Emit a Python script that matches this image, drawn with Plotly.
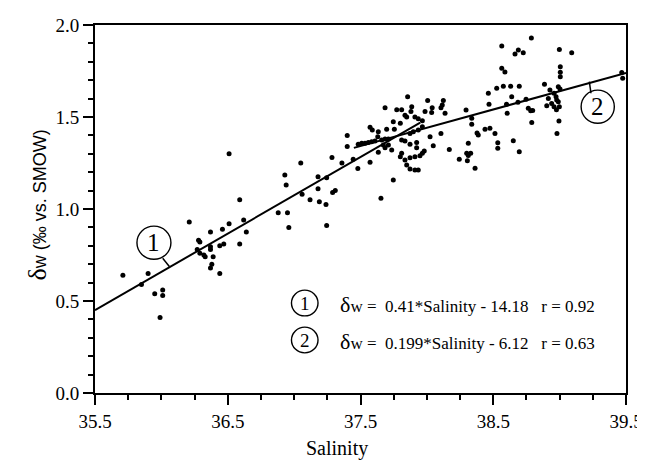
import plotly.graph_objects as go

# Scatter data (salinity, delta_w)
salinity = [
    35.71, 35.90, 35.85, 35.95, 36.01, 36.01, 35.99, 36.21, 36.28, 36.29,
    36.27, 36.29, 36.32, 36.37, 36.37, 36.37, 36.33, 36.39, 36.38, 36.37,
    36.44, 36.44, 36.47, 36.46, 36.51, 36.59, 36.62, 36.64, 36.51, 36.59,
    36.88, 36.95, 36.96, 36.93, 36.94, 37.05, 37.06, 37.12, 37.18, 37.18,
    37.19, 37.245, 37.24, 37.245, 37.29, 37.31, 37.285, 37.36, 37.40, 37.40,
    37.445, 37.48,
    37.855, 37.685, 38.006, 38.124, 38.116, 38.106, 38.04, 38.036, 37.986, 37.773,
    37.81, 37.886, 37.88, 37.835, 37.848, 37.91, 37.935, 37.966, 37.80, 37.747,
    37.755, 37.697, 37.572, 37.589, 37.634, 37.63, 37.483, 37.509, 37.534, 37.559,
    37.584, 37.609, 37.66, 37.685, 37.71, 37.672, 37.685, 37.71, 37.81, 37.835,
    37.873, 37.898, 37.935, 37.966, 38.024, 38.106, 37.873, 37.923, 37.923, 38.048,
    37.98, 37.966, 37.948, 37.91, 37.873, 37.81, 37.80, 37.735, 37.634, 37.572,
    37.835, 37.848, 37.873, 37.91, 37.935, 37.747, 37.654, 38.137,
    38.564, 38.588, 38.463, 38.526, 38.576, 38.631, 38.696, 38.639, 38.747, 38.468,
    38.60, 38.686, 38.764, 38.782, 38.797, 38.295, 38.338, 38.338, 38.605, 38.79,
    38.438, 38.475, 38.378, 38.387, 38.513, 38.312, 38.534, 38.534, 38.651, 38.696,
    38.169, 38.30, 38.33, 38.312, 38.244, 38.305, 38.363, 38.664, 38.689, 38.726,
    38.564, 38.787,
    38.998, 39.091, 39.005, 39.005, 39.005, 39.468, 39.475, 38.886, 38.99, 39.003,
    38.958, 38.973, 38.978, 38.94, 38.903, 38.958, 38.99, 38.998, 38.915, 38.995,
    38.98, 38.976, 38.927,
]
delta_w = [
    0.64, 0.65, 0.59, 0.54, 0.56, 0.53, 0.41, 0.93, 0.83, 0.82,
    0.78, 0.76, 0.75, 0.875, 0.795, 0.78, 0.74, 0.74, 0.70, 0.68,
    0.65, 0.80, 0.81, 0.89, 0.92, 0.81, 0.94, 0.875, 1.30, 1.05,
    0.98, 0.98, 0.90, 1.185, 1.13, 1.25, 1.08, 1.05, 1.175, 1.11,
    1.04, 1.17, 1.025, 0.91, 1.09, 1.10, 1.28, 1.25, 1.40, 1.34,
    1.27, 1.22,
    1.61, 1.55, 1.59, 1.59, 1.565, 1.55, 1.55, 1.525, 1.53, 1.54,
    1.54, 1.556, 1.53, 1.51, 1.50, 1.50, 1.49, 1.48, 1.466, 1.474,
    1.433, 1.433, 1.444, 1.43, 1.42, 1.393, 1.352, 1.357, 1.357, 1.362,
    1.366, 1.37, 1.375, 1.38, 1.38, 1.348, 1.333, 1.348, 1.375, 1.37,
    1.411, 1.42, 1.43, 1.447, 1.393, 1.411, 1.352, 1.362, 1.333, 1.344,
    1.315, 1.303, 1.29, 1.284, 1.279, 1.303, 1.284, 1.32, 1.308, 1.254,
    1.266, 1.239, 1.217, 1.212, 1.212, 1.158, 1.058, 1.52,
    1.765, 1.745, 1.629, 1.656, 1.667, 1.667, 1.667, 1.61, 1.596, 1.569,
    1.569, 1.58, 1.547, 1.534, 1.536, 1.538, 1.493, 1.46, 1.52, 1.47,
    1.433, 1.439, 1.413, 1.402, 1.411, 1.357, 1.36, 1.33, 1.371, 1.311,
    1.324, 1.303, 1.303, 1.291, 1.27, 1.262, 1.221, 1.842, 1.864, 1.849,
    1.886, 1.93,
    1.867, 1.849, 1.773, 1.743, 1.719, 1.742, 1.71, 1.678, 1.665, 1.652,
    1.629, 1.61, 1.592, 1.574, 1.561, 1.556, 1.583, 1.556, 1.60, 1.478,
    1.411, 1.54, 1.647,
]

# Regression lines (end points as drawn)
line1_x = [35.5, 37.95]
line1_y = [0.45, 1.47]
line2_x = [37.45, 39.5]
line2_y = [1.332, 1.74]

# Leader lines to circled labels
lead1_x = [36.01, 36.06]
lead1_y = [0.732, 0.687]
lead2_x = [39.236, 39.224]
lead2_y = [1.629, 1.692]

x_ticks = [35.5, 36.5, 37.5, 38.5, 39.5]
y_ticks = [0.0, 0.5, 1.0, 1.5, 2.0]

serif = "Liberation Serif"
sans = "Liberation Sans"

fig = go.Figure()
fig.add_trace(go.Scatter(x=salinity, y=delta_w, mode="markers", cliponaxis=False,
                         marker=dict(color="black", size=5), showlegend=False))
for lx, ly, w in [(line1_x, line1_y, 2), (line2_x, line2_y, 2),
                  (lead1_x, lead1_y, 1.5), (lead2_x, lead2_y, 1.5)]:
    fig.add_trace(go.Scatter(x=lx, y=ly, mode="lines",
                             line=dict(color="black", width=w), showlegend=False))

def circled(cx, cy, rx, ry, label, size):
    fig.add_shape(type="circle", xref="x", yref="y",
                  x0=cx - rx, x1=cx + rx, y0=cy - ry, y1=cy + ry,
                  line=dict(color="black", width=1.4))
    fig.add_annotation(x=cx, y=cy, text=label, showarrow=False,
                       font=dict(family=serif, size=size, color="black"))

circled(35.944, 0.817, 0.128, 0.09, "1", 25)
circled(39.287, 1.556, 0.125, 0.09, "2", 25)
circled(37.08, 0.489, 0.1, 0.07, "1", 19)
circled(37.08, 0.288, 0.1, 0.07, "2", 19)

eq1 = "<span style='font-size:22px'>δ</span>w =  0.41*Salinity - 14.18   r = 0.92"
eq2 = "<span style='font-size:22px'>δ</span>w =  0.199*Salinity - 6.12   r = 0.63"
for yv, t in [(0.48, eq1), (0.28, eq2)]:
    fig.add_annotation(x=37.33, y=yv, text=t, showarrow=False, xanchor="left",
                       font=dict(family=serif, size=17, color="black"))

fig.add_annotation(xref="paper", yref="paper", x=-0.14, y=0.51, textangle=-90,
                   text="<span style='font-family:Liberation Serif;font-size:26px'>δ</span>w (‰ vs. SMOW)",
                   showarrow=False, font=dict(family=sans, size=18, color="black"))
fig.add_annotation(xref="paper", yref="paper", x=0.455, y=-0.15, yanchor="middle",
                   text="Salinity", showarrow=False,
                   font=dict(family=serif, size=20, color="black"))

axis_common = dict(showline=True, linecolor="black", linewidth=2, mirror=True,
                   ticks="outside", tickcolor="black", tickwidth=2, ticklen=10,
                   showgrid=False, zeroline=False, tickformat=".1f", automargin=False,
                   tickfont=dict(family=serif, size=19, color="black"))
fig.update_xaxes(range=[35.5, 39.5], tickvals=x_ticks,
                 minor=dict(tick0=35.5, dtick=0.25, ticks="outside", ticklen=5,
                            tickwidth=2, tickcolor="black"),
                 **axis_common)
fig.update_yaxes(range=[0, 2.0], tickvals=y_ticks,
                 minor=dict(tick0=0, dtick=0.1, ticks="outside", ticklen=5,
                            tickwidth=2, tickcolor="black"),
                 **axis_common)

# page body adds an 8px offset; figure sized so the plot area lands where the reference has it
fig.update_layout(width=637, height=452, margin=dict(l=87, r=19, t=17, b=67),
                  plot_bgcolor="white", paper_bgcolor="white")
fig.write_html("out.html")
